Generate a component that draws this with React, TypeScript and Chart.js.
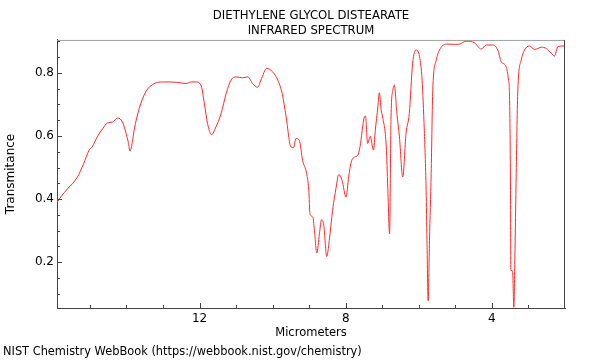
import React, { useEffect, useRef } from 'react';
import { Chart, registerables } from 'chart.js';

Chart.register(...registerables);

const TITLE_LINES = ['DIETHYLENE GLYCOL DISTEARATE', 'INFRARED SPECTRUM'];
const X_LABEL = 'Micrometers';
const Y_LABEL = 'Transmitance';
const FOOTER = 'NIST Chemistry WebBook (https://webbook.nist.gov/chemistry)';

const X_MIN = 2.0;
const X_MAX = 15.9;
const Y_MIN = 0.055;
const Y_MAX = 0.904;

const X_TICKS = [3, 4, 5, 6, 7, 8, 9, 10, 11, 12, 13, 14, 15];
const X_LABELED = [4, 8, 12];
const Y_TICKS = [0.1, 0.15, 0.2, 0.25, 0.3, 0.35, 0.4, 0.45, 0.5, 0.55, 0.6, 0.65, 0.7, 0.75, 0.8, 0.85, 0.9];
const Y_LABELED = [0.2, 0.4, 0.6, 0.8];

const wavelength = [
  15.9, 15.78, 15.61, 15.34, 15.18, 15.02, 14.94, 14.79, 14.65, 14.52,
  14.38, 14.24, 14.11, 14.01, 13.95, 13.9, 13.84, 13.79, 13.65, 13.47,
  13.28, 13.01, 12.83, 12.64, 12.37, 12.23, 12.1, 11.96, 11.87, 11.78,
  11.67, 11.55, 11.41, 11.27, 11.14, 11.0, 10.82, 10.68, 10.55, 10.41,
  10.32, 10.16, 10.0, 9.86, 9.74, 9.63, 9.5, 9.43, 9.36, 9.27,
  9.18, 9.07, 9.01, 8.98, 8.9, 8.86, 8.79, 8.72, 8.66, 8.6,
  8.52, 8.45, 8.36, 8.26, 8.19, 8.1, 7.99, 7.92, 7.85, 7.76,
  7.67, 7.61, 7.49, 7.46, 7.4, 7.33, 7.24, 7.19, 7.12, 7.08,
  7.03, 6.99, 6.89, 6.85, 6.8, 6.76, 6.71, 6.67, 6.6, 6.53,
  6.44, 6.35, 6.26, 6.17, 6.07, 5.98, 5.91, 5.85, 5.8, 5.777,
  5.744, 5.708, 5.662, 5.618, 5.525, 5.435, 5.251, 5.024, 4.887, 4.704,
  4.477, 4.293, 4.156, 3.975, 3.838, 3.746, 3.609, 3.546, 3.518, 3.491,
  3.482, 3.45, 3.428, 3.4, 3.373, 3.335, 3.291, 3.198, 3.108, 2.971,
  2.834, 2.743, 2.65, 2.513, 2.376, 2.286, 2.196, 2.012,
];

const transmittance = [
  0.39, 0.409, 0.433, 0.47, 0.51, 0.555, 0.565, 0.599, 0.623, 0.641,
  0.644, 0.657, 0.644, 0.608, 0.58, 0.552, 0.58, 0.618, 0.687, 0.74,
  0.763, 0.771, 0.771, 0.77, 0.766, 0.771, 0.771, 0.761, 0.704, 0.639,
  0.604, 0.629, 0.671, 0.735, 0.777, 0.787, 0.784, 0.787, 0.766, 0.754,
  0.777, 0.814, 0.803, 0.777, 0.735, 0.66, 0.565, 0.563, 0.592, 0.586,
  0.523, 0.481, 0.428, 0.354, 0.343, 0.306, 0.229, 0.29, 0.335, 0.317,
  0.218, 0.269, 0.364, 0.438, 0.478, 0.459, 0.406, 0.47, 0.517, 0.533,
  0.539, 0.565, 0.66, 0.663, 0.576, 0.599, 0.555, 0.618, 0.692, 0.737,
  0.682, 0.66, 0.565, 0.438, 0.29, 0.66, 0.745, 0.761, 0.671, 0.597,
  0.47, 0.608, 0.671, 0.83, 0.872, 0.851, 0.777, 0.618, 0.428, 0.269,
  0.078, 0.269, 0.481, 0.745, 0.84, 0.872, 0.891, 0.89, 0.891, 0.9,
  0.895, 0.875, 0.888, 0.888, 0.872, 0.835, 0.819, 0.777, 0.724, 0.428,
  0.174, 0.174, 0.158, 0.057, 0.205, 0.481, 0.745, 0.84, 0.872, 0.885,
  0.874, 0.877, 0.881, 0.877, 0.862, 0.853, 0.883, 0.885,
];

const FONT = '"DejaVu Sans", sans-serif';

const near = (list: number[], v: number) => list.some((l) => Math.abs(l - v) < 1e-6);

const framePlugin = {
  id: 'frame',
  afterDraw(chart: any) {
    const { ctx, chartArea: a, scales } = chart;
    ctx.save();
    ctx.lineWidth = 1;
    ctx.strokeStyle = '#a0a0a0';
    ctx.beginPath();
    ctx.moveTo(a.left, a.top + 0.5);
    ctx.lineTo(a.right, a.top + 0.5);
    ctx.stroke();
    ctx.strokeStyle = '#444';
    ctx.beginPath();
    ctx.moveTo(Math.round(a.right) - 0.5, a.top);
    ctx.lineTo(Math.round(a.right) - 0.5, a.bottom);
    ctx.stroke();
    const xs = scales.x;
    xs.ticks.forEach((t: any) => {
      const px = Math.round(xs.getPixelForValue(t.value)) + 0.5;
      const len = near(X_LABELED, t.value) ? 5 : 3;
      ctx.beginPath();
      ctx.moveTo(px, a.bottom);
      ctx.lineTo(px, a.bottom - len);
      ctx.stroke();
    });
    const ys = scales.y;
    ys.ticks.forEach((t: any) => {
      const py = Math.round(ys.getPixelForValue(t.value)) + 0.5;
      const len = near(Y_LABELED, t.value) ? 5 : 3;
      ctx.beginPath();
      ctx.moveTo(a.left, py);
      ctx.lineTo(a.left + len, py);
      ctx.stroke();
    });
    ctx.font = '11.4px ' + FONT;
    ctx.fillStyle = '#000';
    ctx.textAlign = 'left';
    ctx.textBaseline = 'middle';
    ctx.fillText(FOOTER, 3, 352);
    ctx.restore();
  },
};

export default function App() {
  const ref = useRef<HTMLCanvasElement | null>(null);

  useEffect(() => {
    document.body.style.margin = '0';
    const canvas = ref.current;
    if (!canvas) return;
    const points = wavelength.map((x, i) => ({ x, y: transmittance[i] }));
    const chart = new Chart(canvas, {
      type: 'scatter',
      data: {
        datasets: [
          {
            data: points,
            showLine: true,
            borderColor: '#ff2a2a',
            borderWidth: 1,
            pointRadius: 0,
            cubicInterpolationMode: 'monotone',
            fill: false,
          } as any,
        ],
      },
      options: {
        animation: false,
        responsive: false,
        devicePixelRatio: 1,
        layout: { padding: { left: 0, right: 35, top: 0, bottom: 0 } },
        plugins: {
          legend: { display: false },
          tooltip: { enabled: false },
          title: {
            display: true,
            text: TITLE_LINES,
            fullSize: false,
            color: '#000',
            font: { family: FONT, size: 11.7, weight: 'normal', lineHeight: 1.28 },
            padding: { top: 8.8, bottom: 1.2 },
          },
        },
        scales: {
          x: {
            type: 'linear',
            position: 'bottom',
            reverse: true,
            min: X_MIN,
            max: X_MAX,
            afterBuildTicks: (s: any) => {
              s.ticks = X_TICKS.map((v) => ({ value: v }));
            },
            afterFit: (s: any) => {
              s.height = 52;
            },
            grid: { display: false, drawTicks: false, tickLength: 0 },
            border: { display: true, color: '#444', width: 1 },
            ticks: {
              autoSkip: false,
              maxRotation: 0,
              padding: 4,
              color: '#000',
              font: { family: FONT, size: 12 },
              callback: (v: any) => (near(X_LABELED, Number(v)) ? String(v) : ''),
            },
            title: {
              display: true,
              text: X_LABEL,
              color: '#000',
              font: { family: FONT, size: 11.5 },
              padding: { top: 0, bottom: 20.3 },
            },
          },
          y: {
            type: 'linear',
            position: 'left',
            min: Y_MIN,
            max: Y_MAX,
            afterBuildTicks: (s: any) => {
              s.ticks = Y_TICKS.map((v) => ({ value: v }));
            },
            afterFit: (s: any) => {
              s.width = 57;
            },
            grid: { display: false, drawTicks: false, tickLength: 0 },
            border: { display: true, color: '#444', width: 1 },
            ticks: {
              autoSkip: false,
              padding: 3,
              color: '#000',
              font: { family: FONT, size: 12 },
              callback: (v: any) => (near(Y_LABELED, Number(v)) ? Number(v).toFixed(1) : ''),
            },
            title: {
              display: true,
              text: Y_LABEL,
              color: '#000',
              font: { family: FONT, size: 12 },
              padding: { top: 3.3, bottom: 0 },
            },
          },
        },
      },
      plugins: [framePlugin],
    });
    return () => chart.destroy();
  }, []);

  return (
    <div style={{ position: 'absolute', left: 0, top: 0, width: 600, height: 360 }}>
      <canvas ref={ref} width={600} height={360} />
    </div>
  );
}
